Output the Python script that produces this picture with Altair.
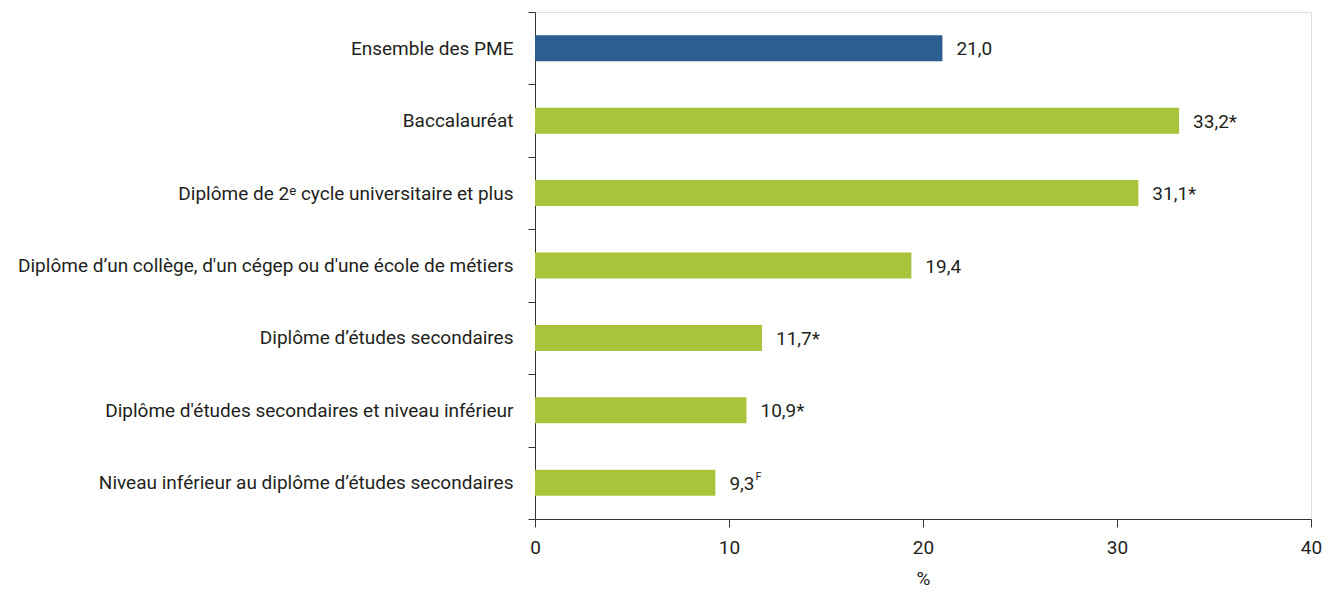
import altair as alt
import pandas as pd

categories = [
    "Ensemble des PME",
    "Baccalauréat",
    "Diplôme de 2\u1d49 cycle universitaire et plus",
    "Diplôme d\u2019un collège, d'un cégep ou d'une école de métiers\u2002",
    "Diplôme d\u2019études secondaires\u2002",
    "Diplôme d'études secondaires et niveau inférieur",
    "Niveau inférieur au diplôme d\u2019études secondaires",
]
values = [21.0, 33.2, 31.1, 19.4, 11.7, 10.9, 9.3]
marks = ["", "*", "*", "", "*", "*", ""]
superscripts = ["", "", "", "", "", "", "F"]
groups = ["total", "niveau", "niveau", "niveau", "niveau", "niveau", "niveau"]

df = pd.DataFrame({
    "cat": categories,
    "val": values,
    "lab": [f"{v:.1f}".replace(".", ",") + m for v, m in zip(values, marks)],
    "sup": superscripts,
    "grp": groups,
})

FONT = "Liberation Sans Narrow, Roboto, sans-serif"
TXT = "#231f20"
FS = 19

y = alt.Y("cat:N", sort=categories, title=None,
          scale=alt.Scale(paddingInner=0, paddingOuter=0),
          axis=alt.Axis(tickBand="extent", tickSize=7, labelPadding=15,
                        labelFont=FONT, labelFontSize=FS, labelColor=TXT,
                        domainColor="#333333", tickColor="#333333",
                        labelLimit=600))
x = alt.X("val:Q", title="%", scale=alt.Scale(domain=[0, 40], nice=False),
          axis=alt.Axis(values=[0, 10, 20, 30, 40], grid=False, tickSize=8,
                        labelFlush=False,
                        labelFont=FONT, labelFontSize=FS, labelColor=TXT,
                        titleFont=FONT, titleFontSize=FS, titleColor=TXT,
                        titleFontWeight="normal", labelPadding=11, titlePadding=12,
                        domainColor="#333333", tickColor="#333333"))

base = alt.Chart(df)

bars = base.mark_bar(size=26).encode(
    x=x, y=y,
    color=alt.Color("grp:N", legend=None,
                    scale=alt.Scale(domain=["total", "niveau"],
                                    range=["#2d5e92", "#a8c43a"])),
)

text = base.mark_text(align="left", baseline="middle", dx=14, dy=1,
                      font=FONT, fontSize=FS, color=TXT).encode(
    x="val:Q", y=alt.Y("cat:N", sort=categories), text="lab:N")

sup = base.mark_text(align="left", baseline="middle", dx=40, dy=-6,
                     font=FONT, fontSize=11, color=TXT).encode(
    x="val:Q", y=alt.Y("cat:N", sort=categories), text="sup:N")

chart = alt.layer(bars, text, sup).properties(
    width=776, height=507,
    autosize=alt.AutoSizeParams(type="none"),
    padding={"left": 527, "top": 4, "right": 12, "bottom": 70},
).configure_view(stroke=None).configure(background="white")

chart.save("out.html", embed_options={"renderer": "svg", "actions": False})
